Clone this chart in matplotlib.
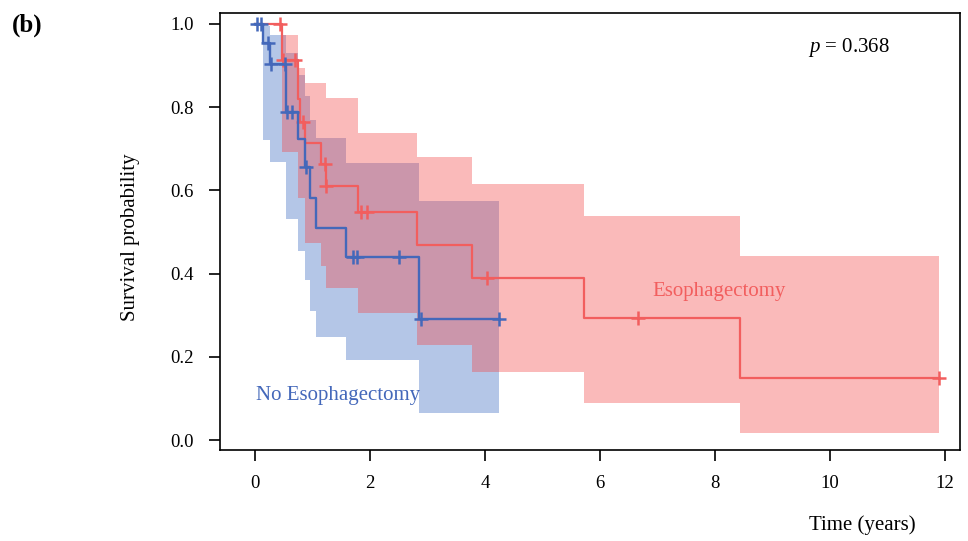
import matplotlib
matplotlib.use("Agg")
import matplotlib.pyplot as plt
import numpy as np

plt.rcParams['font.family'] = ['Liberation Serif', 'DejaVu Serif']
plt.rcParams['mathtext.fontset'] = 'custom'
plt.rcParams['mathtext.it'] = 'Liberation Serif:italic'
plt.rcParams['mathtext.rm'] = 'Liberation Serif'

# No Esophagectomy (blue) - step times / survival
blue_t = [0, 0.13, 0.255, 0.54, 0.74, 0.86, 0.96, 1.06, 1.59, 2.85]
blue_s = [1.0, 0.954, 0.904, 0.787, 0.724, 0.657, 0.581, 0.510, 0.439, 0.291]
blue_end = 4.24
blue_ci_t = [0.13, 0.255, 0.54, 0.74, 0.86, 0.96, 1.06, 1.59, 2.85]
blue_lo = [0.720, 0.669, 0.531, 0.454, 0.385, 0.311, 0.248, 0.193, 0.066]
blue_hi = [0.994, 0.974, 0.930, 0.877, 0.827, 0.770, 0.726, 0.665, 0.575]
blue_cens = [0.03, 0.10, 0.23, 0.27, 0.52, 0.55, 0.64, 0.89, 1.71, 1.77, 2.51, 2.88, 4.24]

# Esophagectomy (red)
red_t = [0, 0.475, 0.74, 0.78, 0.87, 1.14, 1.225, 1.79, 2.82, 3.77, 5.72, 8.44]
red_s = [1.0, 0.913, 0.820, 0.765, 0.714, 0.662, 0.610, 0.549, 0.468, 0.390, 0.292, 0.150]
red_end = 11.90
red_ci_t = [0.475, 0.74, 0.78, 0.87, 1.14, 1.225, 1.79, 2.82, 3.77, 5.72, 8.44]
red_lo = [0.691, 0.581, 0.581, 0.474, 0.418, 0.366, 0.305, 0.228, 0.164, 0.090, 0.016]
red_hi = [0.974, 0.895, 0.895, 0.857, 0.857, 0.821, 0.738, 0.681, 0.615, 0.538, 0.441]
red_cens = [0.435, 0.49, 0.70, 0.84, 1.21, 1.24, 1.84, 1.95, 4.03, 6.66, 11.90]

xticks = [0, 2, 4, 6, 8, 10, 12]
yticks = [0.0, 0.2, 0.4, 0.6, 0.8, 1.0]

blue_band = (68/255, 114/255, 196/255)
red_band = (244/255, 68/255, 68/255)
blue_line = '#4468BA'
red_line = '#F25E5E'


def surv_at(times, surv, t):
	i = np.searchsorted(times, t, side='right') - 1
	return surv[i]


fig = plt.figure(figsize=(9.68, 5.41), dpi=100)
ax = fig.add_axes([220/968, 1-450/541, 740/968, 437/541])

# confidence bands
x = np.append(blue_ci_t, blue_end)
ax.fill_between(x, np.append(blue_lo, blue_lo[-1]), np.append(blue_hi, blue_hi[-1]),
	step='post', color=blue_band, alpha=0.4, lw=0)
x = np.append(red_ci_t, red_end)
ax.fill_between(x, np.append(red_lo, red_lo[-1]), np.append(red_hi, red_hi[-1]),
	step='post', color=red_band, alpha=0.364, lw=0)

# survival curves
ax.step(np.append(red_t, red_end), np.append(red_s, red_s[-1]), where='post', color=red_line, lw=1.6)
ax.plot(red_cens, [surv_at(red_t, red_s, c) for c in red_cens], '+', color=red_line, ms=10, mew=1.8)
ax.step(np.append(blue_t, blue_end), np.append(blue_s, blue_s[-1]), where='post', color=blue_line, lw=1.7)
ax.plot(blue_cens, [surv_at(blue_t, blue_s, c) for c in blue_cens], '+', color=blue_line, ms=10, mew=1.8)

ax.set_xlim(-0.61, 12.26)
ax.set_ylim(-0.024, 1.026)
ax.set_xticks(xticks)
ax.set_xticklabels([str(v) for v in xticks])
ax.set_yticks(yticks)
ax.set_yticklabels(["%.1f" % v for v in yticks])
ax.tick_params(direction='out', length=8, width=1.2, labelsize=13.5, colors='black')
ax.tick_params(axis='x', pad=10)
ax.tick_params(axis='y', pad=11)
for s in ax.spines.values():
	s.set_linewidth(1.2)

ax.text(8.07, 0.356, "Esophagectomy", color=red_line, fontsize=15, ha='center', va='center')
ax.text(1.45, 0.106, "No Esophagectomy", color=blue_line, fontsize=15, ha='center', va='center')
ax.text(9.62, 0.942, "$p$ = 0.368", fontsize=15, ha='left', va='center')

fig.text(130/968, 1-237/541, "Survival probability", fontsize=15, rotation=90, ha='center', va='center')
fig.text(862/968, 1-525/541, "Time (years)", fontsize=15, ha='center', va='center')
fig.text(12/968, 1-25/541, "(b)", fontsize=18, fontweight='bold', ha='left', va='center')

fig.savefig("out.png", dpi=100)
